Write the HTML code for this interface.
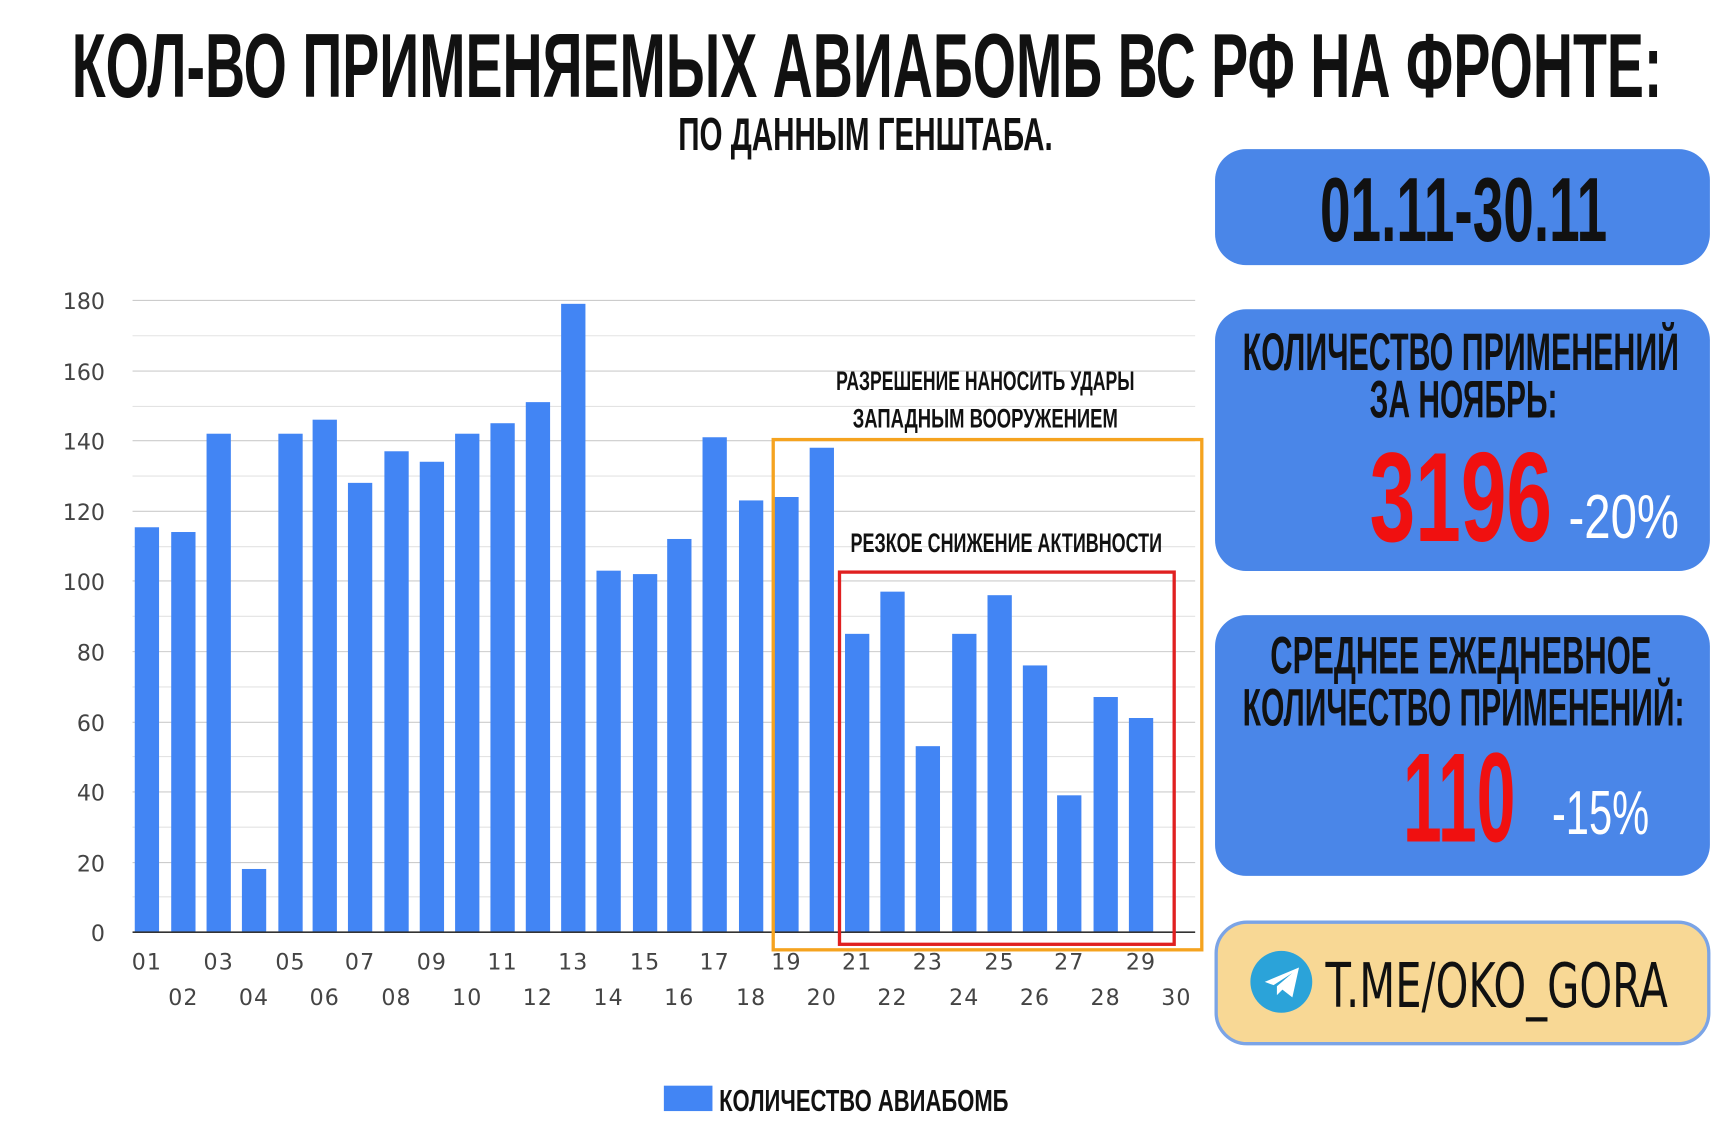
<!DOCTYPE html>
<html><head><meta charset="utf-8"><style>html,body{margin:0;padding:0;background:#fff}svg{display:block}</style></head>
<body>
<svg width="1732" height="1142" viewBox="0 0 1568 1034" preserveAspectRatio="none" xmlns="http://www.w3.org/2000/svg">
<rect width="1568" height="1034" fill="#fff"/>
<g font-family="Liberation Sans Narrow, Liberation Sans, sans-serif" font-weight="bold">
<text x="65" y="88" font-size="82" textLength="1440" lengthAdjust="spacingAndGlyphs" fill="#111">КОЛ-ВО ПРИМЕНЯЕМЫХ АВИАБОМБ ВС РФ НА ФРОНТЕ:</text>
<text x="614" y="136" font-size="42" textLength="339" lengthAdjust="spacingAndGlyphs" fill="#111">ПО ДАННЫМ ГЕНШТАБА.</text>
</g>
<g id="grid" stroke="#e3e3e3" stroke-width="1">
<line x1="120" x2="1082" y1="272" y2="272" stroke="#ccc"/><line x1="120" x2="1082" y1="304" y2="304"/><line x1="120" x2="1082" y1="336" y2="336" stroke="#ccc"/><line x1="120" x2="1082" y1="368" y2="368"/><line x1="120" x2="1082" y1="399" y2="399" stroke="#ccc"/><line x1="120" x2="1082" y1="431" y2="431"/><line x1="120" x2="1082" y1="463" y2="463" stroke="#ccc"/><line x1="120" x2="1082" y1="495" y2="495"/><line x1="120" x2="1082" y1="526" y2="526" stroke="#ccc"/><line x1="120" x2="1082" y1="558" y2="558"/><line x1="120" x2="1082" y1="590" y2="590" stroke="#ccc"/><line x1="120" x2="1082" y1="622" y2="622"/><line x1="120" x2="1082" y1="654" y2="654" stroke="#ccc"/><line x1="120" x2="1082" y1="685" y2="685"/><line x1="120" x2="1082" y1="717" y2="717" stroke="#ccc"/><line x1="120" x2="1082" y1="749" y2="749"/><line x1="120" x2="1082" y1="781" y2="781" stroke="#ccc"/><line x1="120" x2="1082" y1="812" y2="812"/>
</g>
<g font-family="DejaVu Sans, sans-serif" font-size="20" fill="#444" text-anchor="end">
<text x="95" y="280">180</text><text x="95" y="344">160</text><text x="95" y="407">140</text><text x="95" y="471">120</text><text x="95" y="534">100</text><text x="95" y="598">80</text><text x="95" y="662">60</text><text x="95" y="725">40</text><text x="95" y="789">20</text><text x="95" y="852">0</text>
</g>
<g fill="#4285f4">
<rect x="122" y="477.4" width="22" height="366.6"/><rect x="155" y="481.7" width="22" height="362.3"/><rect x="187" y="392.7" width="22" height="451.3"/><rect x="219" y="786.8" width="22" height="57.2"/><rect x="252" y="392.7" width="22" height="451.3"/><rect x="283" y="380" width="22" height="464"/><rect x="315" y="437.2" width="22" height="406.8"/><rect x="348" y="408.6" width="22" height="435.4"/><rect x="380" y="418.1" width="22" height="425.9"/><rect x="412" y="392.7" width="22" height="451.3"/><rect x="444" y="383.2" width="22" height="460.8"/><rect x="476" y="364.1" width="22" height="479.9"/><rect x="508" y="275.1" width="22" height="568.9"/><rect x="540" y="516.7" width="22" height="327.3"/><rect x="573" y="519.8" width="22" height="324.2"/><rect x="604" y="488" width="22" height="356"/><rect x="636" y="395.9" width="22" height="448.1"/><rect x="669" y="453.1" width="22" height="390.9"/><rect x="701" y="450" width="22" height="394"/><rect x="733" y="405.4" width="22" height="438.6"/><rect x="765" y="573.9" width="22" height="270.1"/><rect x="797" y="535.7" width="22" height="308.3"/><rect x="829" y="675.6" width="22" height="168.4"/><rect x="862" y="573.9" width="22" height="270.1"/><rect x="894" y="538.9" width="22" height="305.1"/><rect x="926" y="602.5" width="22" height="241.5"/><rect x="957" y="720.1" width="22" height="123.9"/><rect x="990" y="631.1" width="22" height="212.9"/><rect x="1022" y="650.1" width="22" height="193.9"/>
</g>
<line x1="120" x2="1082" y1="844" y2="844" stroke="#333" stroke-width="1.5"/>
<g font-family="DejaVu Sans, sans-serif" font-size="20" fill="#444" text-anchor="middle" letter-spacing="1">
<text x="133" y="878">01</text><text x="198" y="878">03</text><text x="263" y="878">05</text><text x="326" y="878">07</text><text x="391" y="878">09</text><text x="455" y="878">11</text><text x="519" y="878">13</text><text x="584" y="878">15</text><text x="647" y="878">17</text><text x="712" y="878">19</text><text x="776" y="878">21</text><text x="840" y="878">23</text><text x="905" y="878">25</text><text x="968" y="878">27</text><text x="1033" y="878">29</text>
<text x="166" y="910">02</text><text x="230" y="910">04</text><text x="294" y="910">06</text><text x="359" y="910">08</text><text x="423" y="910">10</text><text x="487" y="910">12</text><text x="551" y="910">14</text><text x="615" y="910">16</text><text x="680" y="910">18</text><text x="744" y="910">20</text><text x="808" y="910">22</text><text x="873" y="910">24</text><text x="937" y="910">26</text><text x="1001" y="910">28</text><text x="1065" y="910">30</text>
</g>
<rect x="700" y="398" width="388" height="462" fill="none" stroke="#f5a31f" stroke-width="3"/>
<rect x="760" y="518" width="303" height="337" fill="none" stroke="#e02020" stroke-width="3"/>
<g font-family="Liberation Sans Narrow, Liberation Sans, sans-serif" font-weight="bold" fill="#111">
<text x="757" y="353" font-size="24" textLength="270" lengthAdjust="spacingAndGlyphs">РАЗРЕШЕНИЕ НАНОСИТЬ УДАРЫ</text>
<text x="772" y="387" font-size="24" textLength="240" lengthAdjust="spacingAndGlyphs">ЗАПАДНЫМ ВООРУЖЕНИЕМ</text>
<text x="770" y="500" font-size="24" textLength="282" lengthAdjust="spacingAndGlyphs">РЕЗКОЕ СНИЖЕНИЕ АКТИВНОСТИ</text>
<text x="651" y="1006" font-size="28" textLength="262" lengthAdjust="spacingAndGlyphs">КОЛИЧЕСТВО АВИАБОМБ</text>
</g>
<rect x="601" y="983" width="44" height="23" fill="#4285f4"/>
<g fill="#4a86e8">
<rect x="1100" y="135" width="448" height="105" rx="28"/>
<rect x="1100" y="280" width="448" height="237" rx="28"/>
<rect x="1100" y="557" width="448" height="236" rx="28"/>
</g>
<rect x="1101" y="835" width="446" height="110" rx="28" fill="#f8d895" stroke="#7ba4e6" stroke-width="3"/>
<g font-family="Liberation Sans Narrow, Liberation Sans, sans-serif" font-weight="bold">
<text x="1195" y="218" font-size="82" textLength="260" lengthAdjust="spacingAndGlyphs" fill="#111">01.11-30.11</text>
<text x="1125" y="335" font-size="48" textLength="395" lengthAdjust="spacingAndGlyphs" fill="#111">КОЛИЧЕСТВО ПРИМЕНЕНИЙ</text>
<text x="1240" y="378" font-size="48" textLength="170" lengthAdjust="spacingAndGlyphs" fill="#111">ЗА НОЯБРЬ:</text>
<text x="1240" y="490" font-size="115" textLength="165" lengthAdjust="spacingAndGlyphs" fill="#f01010">3196</text>
<text x="1150" y="610" font-size="48" textLength="345" lengthAdjust="spacingAndGlyphs" fill="#111">СРЕДНЕЕ ЕЖЕДНЕВНОЕ</text>
<text x="1125" y="657" font-size="48" textLength="400" lengthAdjust="spacingAndGlyphs" fill="#111">КОЛИЧЕСТВО ПРИМЕНЕНИЙ:</text>
<text x="1270" y="762" font-size="115" textLength="102" lengthAdjust="spacingAndGlyphs" fill="#f01010">110</text>
</g>
<g font-family="Liberation Sans Narrow, Liberation Sans, sans-serif" fill="#fff">
<text x="1420" y="487" font-size="56" textLength="100" lengthAdjust="spacingAndGlyphs">-20%</text>
<text x="1405" y="755" font-size="56" textLength="88" lengthAdjust="spacingAndGlyphs">-15%</text>
</g>
<circle cx="1160" cy="889" r="28" fill="#2ba3d9"/>
<path d="M1145 889 L1176 876 L1170 903 L1161 896 L1156 901 L1156 893 L1170 881 L1153 892 Z" fill="#fff"/>
<text x="1200" y="912" font-family="DejaVu Sans, sans-serif" font-size="56" textLength="310" lengthAdjust="spacingAndGlyphs" fill="#111">T.ME/OKO_GORA</text>
</svg>
</body></html>
